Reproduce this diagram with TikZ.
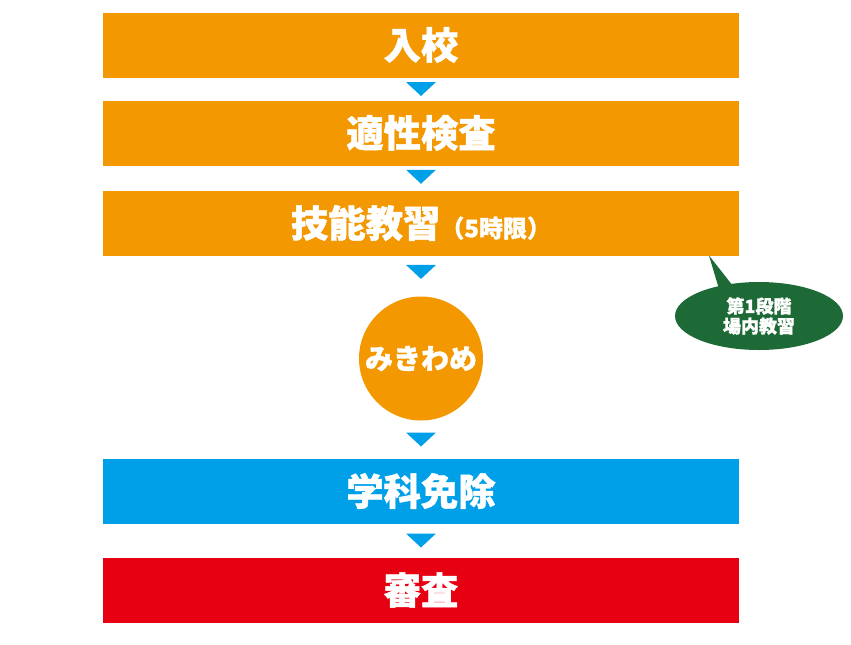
\documentclass[tikz,border=0pt]{standalone}
\usepackage{fontspec}
\newfontfamily\jp{Noto Sans CJK JP}[BoldFeatures={FakeBold=1.2}]
\usetikzlibrary{positioning,calc,shapes.geometric}
\definecolor{kiorange}{HTML}{F39800}
\definecolor{kiblue}{HTML}{00A0E9}
\definecolor{kired}{HTML}{E60012}
\definecolor{kigreen}{HTML}{1D6A37}
\tikzset{
  stage/.style   = {fill=#1, draw=none, minimum width=477pt, minimum height=48.75pt,
                    inner sep=0pt, outer sep=0pt, text=white,
                    font=\jp\bfseries\fontsize{28}{30}\selectfont},
  check/.style   = {circle, fill=kiorange, minimum size=93pt, inner sep=0pt,
                    outer sep=0pt, text=white, font=\jp\bfseries\fontsize{21}{24}\selectfont},
  callout/.style = {ellipse, fill=kigreen, minimum width=126pt, minimum height=51pt,
                    inner sep=0pt, text=white, align=center,
                    font=\jp\bfseries\fontsize{13.5}{15}\selectfont},
  tri/.style     = {fill=kiblue},
}
\begin{document}
\begin{tikzpicture}[x=0.75pt, y=-0.75pt]
  \useasboundingbox (0,0) rectangle (851,644);
  \node[stage=kiorange] (nyuko) at (421,45) {入校};
  \node[stage=kiorange, below=17.25pt of nyuko] (tekisei) {適性検査};
  \node[stage=kiorange, below=18.75pt of tekisei] (ginou) {技能教習{\fontsize{18}{20}\selectfont （5時限）}};
  \node[check, below=30.75pt of ginou] (mikiwame) {みきわめ};
  \node[stage=kiblue, below=28.5pt of mikiwame] (gakka) {学科免除};
  \node[stage=kired, below=25.5pt of gakka] (shinsa) {審査};
  \foreach \a/\b/\f in {nyuko/tekisei/0.5, tekisei/ginou/0.45, ginou/mikiwame/0.4,
                        mikiwame/gakka/0.5, gakka/shinsa/0.5}
    {\fill[tri] ($(\a.south)!\f!(\b.north)$) ++(-15,-7) -- ++(30,0) -- ++(-15,14) -- cycle;}
  \node[callout] (dankai) at (759,316) {第1段階\\場内教習};
  \coordinate (tip) at ($(ginou.south east)+(-30,0)$);
  \fill[kigreen] (tip) -- ($(dankai.center)+(-40,-27)$) -- ($(dankai.center)+(-26,-30)$) -- cycle;
\end{tikzpicture}
\end{document}
